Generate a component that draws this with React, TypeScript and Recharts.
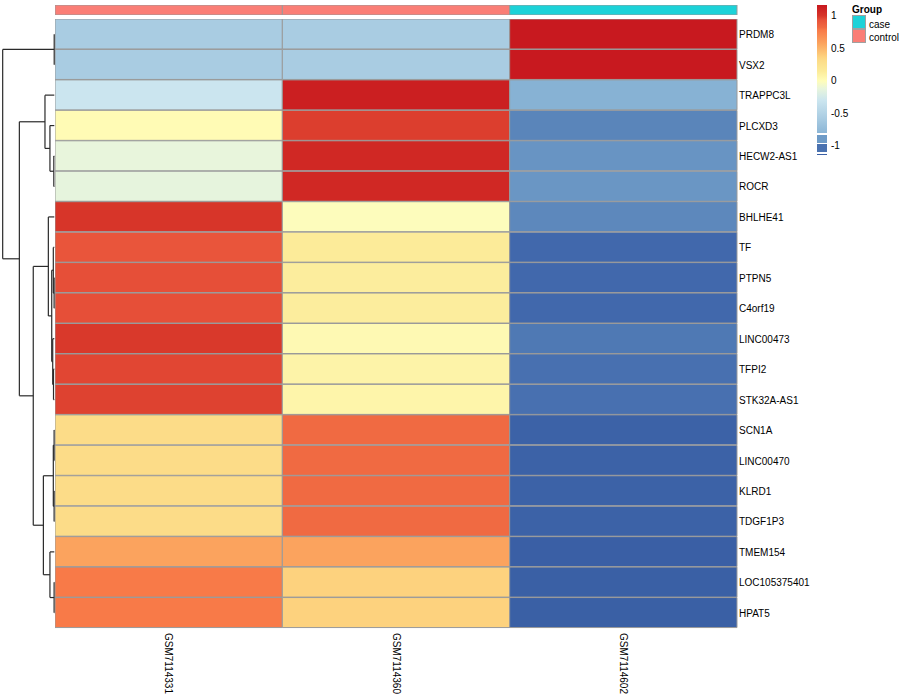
import React from 'react';
import { BarChart, Bar, Cell, XAxis, YAxis, ComposedChart, Scatter, ReferenceLine } from 'recharts';

// rows, top to bottom in dendrogram order
const genes = [
  'PRDM8', 'VSX2', 'TRAPPC3L', 'PLCXD3', 'HECW2-AS1', 'ROCR', 'BHLHE41', 'TF', 'PTPN5', 'C4orf19',
  'LINC00473', 'TFPI2', 'STK32A-AS1', 'SCN1A', 'LINC00470', 'KLRD1', 'TDGF1P3', 'TMEM154', 'LOC105375401', 'HPAT5',
];

const samples = ['GSM7114331', 'GSM7114360', 'GSM7114602'];
const groups = ['control', 'control', 'case'];

// row-scaled expression (z-score) per sample
const gsm7114331 = [-0.577, -0.577, -0.3, 0.02, -0.12, -0.13, 1.0, 0.92, 0.94, 0.94, 0.99, 0.96, 0.97, 0.31, 0.31, 0.31, 0.31, 0.577, 0.78, 0.78];
const gsm7114360 = [-0.577, -0.577, 1.12, 0.98, 1.07, 1.07, -0.01, 0.15, 0.13, 0.13, 0.03, 0.08, 0.07, 0.82, 0.82, 0.82, 0.82, 0.577, 0.37, 0.37];
const gsm7114602 = [1.155, 1.155, -0.82, -1.0, -0.95, -0.94, -0.99, -1.07, -1.07, -1.07, -1.03, -1.05, -1.05, -1.13, -1.13, -1.13, -1.13, -1.155, -1.15, -1.15];
const zByColumn = [gsm7114331, gsm7114360, gsm7114602];

// row dendrogram merges: [left, right, height]; 'mK' refers to merge K
const merges: [string, string, number][] = [
  ['PRDM8', 'VSX2', 0.005],
  ['HECW2-AS1', 'ROCR', 0.025],
  ['PLCXD3', 'm1', 0.22],
  ['TRAPPC3L', 'm2', 0.47],
  ['PTPN5', 'C4orf19', 0.01],
  ['TF', 'm4', 0.05],
  ['TFPI2', 'STK32A-AS1', 0.04],
  ['LINC00473', 'm6', 0.08],
  ['m5', 'm7', 0.13],
  ['BHLHE41', 'm8', 0.3],
  ['SCN1A', 'LINC00470', 0.01],
  ['KLRD1', 'TDGF1P3', 0.01],
  ['m10', 'm11', 0.05],
  ['LOC105375401', 'HPAT5', 0.01],
  ['TMEM154', 'm13', 0.22],
  ['m12', 'm14', 0.55],
  ['m9', 'm15', 1.06],
  ['m3', 'm16', 1.76],
  ['m0', 'm17', 2.6],
];

const legendTicks = [1, 0.5, 0, -0.5, -1];

const groupColors: Record<string, string> = { case: '#1CD2D8', control: '#FA7E76' };

const colorStops: [number, string][] = [
  [-1.155, '#3A5FA5'], [-1.07, '#4168AC'], [-1.0, '#5A85BA'], [-0.9, '#75A2CB'], [-0.8, '#8CB6D6'],
  [-0.577, '#A9CCE2'], [-0.3, '#CBE5EF'], [-0.12, '#E8F5DC'], [0, '#FFFDB9'], [0.15, '#FCEB99'],
  [0.31, '#FCDC88'], [0.37, '#FDD27E'], [0.577, '#FBA35E'], [0.78, '#F87A48'], [0.82, '#F06A42'],
  [0.93, '#E8533A'], [1.0, '#D73529'], [1.155, '#C8191F'],
];

const FONT = '"Liberation Sans", Arial, Helvetica, sans-serif';

const hexToRgb = (h: string) => [1, 3, 5].map((i) => parseInt(h.slice(i, i + 2), 16));
const zColor = (v: number) => {
  if (v <= colorStops[0][0]) return colorStops[0][1];
  for (let i = 1; i < colorStops.length; i++) {
    const [v1, c1] = colorStops[i];
    if (v <= v1) {
      const [v0, c0] = colorStops[i - 1];
      const t = (v - v0) / (v1 - v0);
      const a = hexToRgb(c0);
      const b = hexToRgb(c1);
      return `rgb(${a.map((x, k) => Math.round(x + (b[k] - x) * t)).join(',')})`;
    }
  }
  return colorStops[colorStops.length - 1][1];
};

const rows = genes.map((gene) => ({ gene, c0: 1, c1: 1, c2: 1 }));
const annotRow = [{ name: 'Group', c0: 1, c1: 1, c2: 1 }];

// dendrogram segments from the merge table
const nodes: Record<string, { y: number; h: number }> = {};
genes.forEach((g, i) => (nodes[g] = { y: i + 0.5, h: 0 }));
const segments: { x: number; y: number }[][] = [];
merges.forEach(([a, b, h], k) => {
  const A = nodes[a];
  const B = nodes[b];
  segments.push([{ x: A.h, y: A.y }, { x: h, y: A.y }]);
  segments.push([{ x: B.h, y: B.y }, { x: h, y: B.y }]);
  segments.push([{ x: h, y: A.y }, { x: h, y: B.y }]);
  nodes['m' + k] = { y: (A.y + B.y) / 2, h };
});
const leafPoints = genes.map((g, i) => ({ h: 0, y: i + 0.5 }));

const HM_LEFT = 55;
const HM_W = 682;
const HM_TOP = 19;
const HM_H = 609;

const RowTick = (props: any) => (
  <text x={props.x} y={props.y + 0.5} dy="0.35em" textAnchor="start" fontSize={10} fontFamily={FONT} fill="#000">
    {props.payload.value}
  </text>
);

const ColTick = (props: any) => {
  const label = samples[Math.floor(props.payload.value)];
  return (
    <text
      x={props.x}
      y={props.y}
      dy="0.35em"
      textAnchor="start"
      fontSize={10}
      fontFamily={FONT}
      fill="#000"
      transform={`rotate(90, ${props.x}, ${props.y})`}
    >
      {label}
    </text>
  );
};

const legendY = (v: number) => 80.7 - 65 * v;
const gradTop = legendY(1.165);
const gradBottom = legendY(-0.8);
const gradient = colorStops
  .filter(([v]) => v >= -0.8)
  .slice()
  .reverse()
  .map(([v, c]) => `${c} ${(((legendY(v) - gradTop) / (gradBottom - gradTop)) * 100).toFixed(1)}%`)
  .join(', ');

export default function App() {
  return (
    <div style={{ position: 'absolute', left: 0, top: 0, width: 900, height: 700, background: '#fff', fontFamily: FONT }}>
      {/* column annotation bar */}
      <div style={{ position: 'absolute', left: HM_LEFT, top: 5 }}>
        <BarChart layout="vertical" width={HM_W + 100} height={10} data={annotRow} margin={{ top: 0, right: 0, bottom: 0, left: 0 }} barCategoryGap={0}>
          <XAxis type="number" domain={[0, 3]} hide />
          <YAxis
            type="category"
            dataKey="name"
            orientation="right"
            width={100}
            axisLine={false}
            tickLine={false}
            tickSize={0}
            tickMargin={2}
            tick={(p: any) => (
              <text x={p.x} y={p.y} dy="0.35em" fontSize={10} fontWeight="bold" fontFamily={FONT} fill="#000">
                {p.payload.value}
              </text>
            )}
          />
          {samples.map((s, j) => (
            <Bar key={s} dataKey={`c${j}`} stackId="a" isAnimationActive={false} stroke="#9a9a9a" strokeWidth={1}>
              {annotRow.map((r, i) => (
                <Cell key={i} fill={groupColors[groups[j]]} />
              ))}
            </Bar>
          ))}
        </BarChart>
      </div>

      {/* heatmap */}
      <div style={{ position: 'absolute', left: HM_LEFT, top: HM_TOP }}>
        <BarChart layout="vertical" width={HM_W + 100} height={HM_H + 72} data={rows} margin={{ top: 0, right: 0, bottom: 0, left: 0 }} barCategoryGap={0}>
          <XAxis
            type="number"
            domain={[0, 3]}
            ticks={[0.5, 1.5, 2.5]}
            interval={0}
            height={72}
            axisLine={false}
            tickLine={false}
            tickSize={0}
            tickMargin={5}
            tick={ColTick}
          />
          <YAxis
            type="category"
            dataKey="gene"
            orientation="right"
            width={100}
            interval={0}
            axisLine={false}
            tickLine={false}
            tickSize={0}
            tickMargin={2}
            tick={RowTick}
          />
          {samples.map((s, j) => (
            <Bar key={s} dataKey={`c${j}`} stackId="a" isAnimationActive={false} stroke="#9a9a9a" strokeWidth={1}>
              {rows.map((r, i) => (
                <Cell key={r.gene} fill={zColor(zByColumn[j][i])} />
              ))}
            </Bar>
          ))}
        </BarChart>
      </div>

      {/* row dendrogram */}
      <div style={{ position: 'absolute', left: 0, top: HM_TOP }}>
        <ComposedChart width={55} height={HM_H} margin={{ top: 0, right: 0, bottom: 0, left: 0 }}>
          <XAxis type="number" dataKey="h" domain={[-0.035, 2.735]} reversed hide />
          <YAxis type="number" dataKey="y" domain={[0, 20]} reversed hide />
          <Scatter data={leafPoints} isAnimationActive={false} shape={() => <g />} />
          {segments.map((seg, i) => (
            <ReferenceLine key={i} segment={seg} stroke="#2a2a2a" strokeWidth={1.2} ifOverflow="visible" />
          ))}
        </ComposedChart>
      </div>

      {/* colour key */}
      <div
        style={{
          position: 'absolute',
          left: 817,
          top: gradTop,
          width: 9.5,
          height: gradBottom - gradTop,
          background: `linear-gradient(to bottom, ${gradient})`,
        }}
      />
      <div style={{ position: 'absolute', left: 817, top: 135, width: 9.5, height: 8, background: '#6E9BC7' }} />
      <div style={{ position: 'absolute', left: 817, top: 144, width: 9.5, height: 8, background: '#4A72B0' }} />
      <div style={{ position: 'absolute', left: 817, top: 153.5, width: 9.5, height: 1.2, background: '#3A5FA5' }} />
      {legendTicks.map((t) => (
        <div
          key={t}
          style={{ position: 'absolute', left: 831, top: legendY(t) - 5.5, fontSize: 10, lineHeight: '12px', color: '#000' }}
        >
          {String(t)}
        </div>
      ))}

      {/* group key */}
      <div style={{ position: 'absolute', left: 852, top: 3.5, fontSize: 10, lineHeight: '12px', fontWeight: 'bold' }}>Group</div>
      {['case', 'control'].map((g, i) => (
        <React.Fragment key={g}>
          <div
            style={{
              position: 'absolute',
              left: 852,
              top: 15 + i * 14.3,
              width: 13.5,
              height: 13.5,
              background: groupColors[g],
              boxSizing: 'border-box',
              border: '0.8px solid #a0a0a0',
            }}
          />
          <div style={{ position: 'absolute', left: 869, top: 18.5 + i * 13.8, fontSize: 10, lineHeight: '12px' }}>{g}</div>
        </React.Fragment>
      ))}
    </div>
  );
}
